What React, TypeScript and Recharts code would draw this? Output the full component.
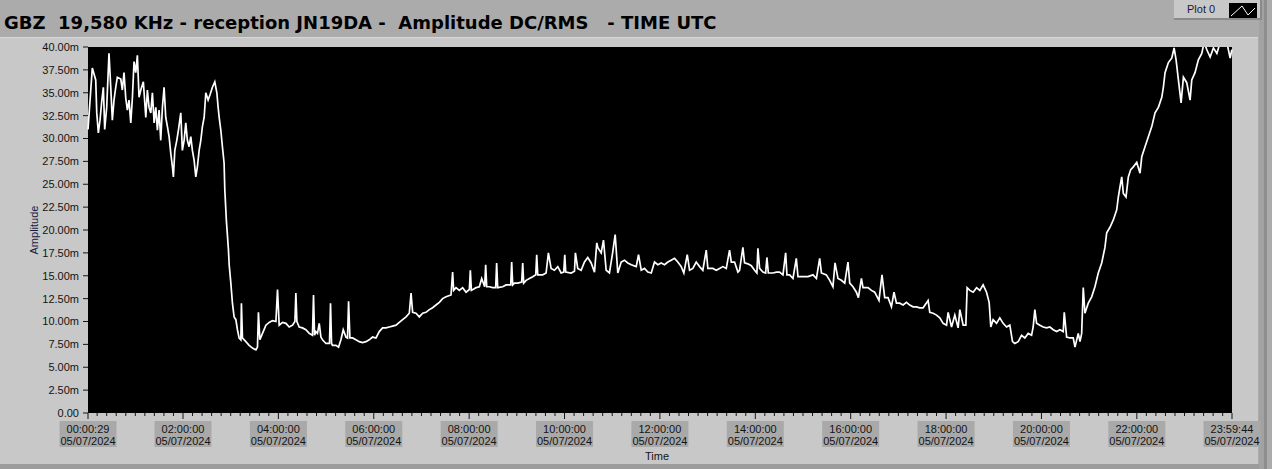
import { LineChart, Line, XAxis, YAxis } from 'recharts'

// GBZ 19,580 kHz - amplitude DC/RMS, reception JN19DA, 05/07/2024 (UTC)
const TITLE = 'GBZ  19,580 KHz - reception JN19DA -  Amplitude DC/RMS   - TIME UTC'
const DATE_LABEL = '05/07/2024'
const START_MIN = 29 / 60 // 00:00:29
const END_MIN = 86384 / 60 // 23:59:44

// readings: [minutes since 00:00 UTC, amplitude in mV]
const night: [number, number][] = [
  [0.5, 31.0], [5.9, 37.7], [10.2, 36.4], [11.5, 32.8], [13.5, 30.6], [15.6, 32.0], [17.7, 34.0], [19.8, 35.6],
  [21.5, 31.0], [24.0, 33.4], [26.9, 39.3], [29.1, 35.6], [31.1, 32.0], [33.2, 34.2], [35.4, 35.6], [37.4, 36.7],
  [41.7, 36.5], [43.7, 35.3], [45.8, 37.2], [48.0, 34.4], [50.0, 33.1], [52.1, 34.2], [54.3, 31.7], [56.3, 34.4],
  [58.4, 38.4], [60.6, 37.2], [62.6, 39.1], [64.7, 34.5], [66.9, 35.3], [70.1, 36.2], [73.2, 32.3], [75.2, 35.3],
  [77.3, 33.4], [79.5, 32.8], [81.5, 35.0], [83.7, 31.7], [85.8, 33.4], [87.8, 30.9], [89.9, 33.1], [92.0, 29.8],
  [94.1, 33.4], [96.2, 35.6], [98.3, 32.3], [100.4, 31.3], [102.5, 30.2], [104.6, 28.4], [106.7, 26.9], [107.9, 25.8],
  [109.7, 28.7], [112.2, 29.8], [114.2, 30.9], [117.2, 32.8], [119.2, 28.7], [121.4, 29.8], [123.5, 31.7], [125.5, 29.8],
  [127.7, 29.1], [129.8, 30.2], [131.8, 28.7], [134.0, 27.6], [136.1, 25.8], [138.1, 26.9], [140.3, 28.7], [142.4, 29.8],
  [144.4, 31.3], [146.6, 32.3], [148.7, 35.0], [151.6, 34.2], [154.1, 34.8], [157.0, 35.6], [160.0, 36.2], [162.6, 35.0],
  [164.2, 33.4], [165.5, 32.3], [167.6, 30.9], [169.6, 29.1], [171.7, 27.3], [172.6, 24.4], [174.6, 21.0],
]

const sunrise: [number, number][] = [
  [177.2, 17.8], [178.1, 16.2], [180.2, 14.2], [182.2, 12.0], [184.3, 10.5], [186.5, 10.2], [188.5, 9.1], [190.6, 8.2],
  [192.8, 8.0], [193.5, 12.0], [194.8, 8.2], [199.1, 7.8], [203.2, 7.4], [207.4, 7.1], [211.7, 6.9], [213.7, 7.2],
  [214.9, 11.0], [216.7, 8.0], [220.0, 8.7], [224.3, 9.6], [228.4, 9.9], [232.6, 10.1], [236.9, 10.0], [238.9, 13.5],
  [241.0, 9.6], [245.2, 9.9], [249.5, 9.8], [253.6, 9.4], [257.8, 9.6], [260.8, 10.0], [262.0, 13.1], [263.3, 10.0],
  [266.2, 9.4], [270.3, 9.3], [274.6, 9.1], [278.8, 8.7], [282.9, 8.5], [284.2, 12.9], [285.5, 8.5], [287.2, 8.9],
  [289.2, 8.7], [291.4, 9.8], [293.5, 8.3], [295.5, 8.0], [299.8, 7.6], [304.3, 7.6], [305.6, 12.0], [306.9, 7.6],
  [308.1, 7.4], [312.4, 7.4], [315.7, 7.2], [318.7, 8.0], [321.6, 9.1], [325.0, 8.3], [327.0, 8.2], [328.3, 12.2],
  [330.0, 8.2], [333.3, 8.2], [337.6, 8.0], [341.7, 7.8], [345.9, 7.7], [350.2, 7.8], [354.3, 8.0], [358.5, 8.3],
  [362.8, 8.2], [366.9, 8.9], [371.1, 9.3], [375.4, 9.3], [379.5, 9.4], [383.7, 9.5], [388.0, 9.6], [392.1, 9.9],
  [396.3, 10.2], [400.6, 10.5], [404.7, 10.9], [406.9, 13.1], [408.9, 11.0], [413.1, 10.9], [417.3, 10.5], [421.5, 10.9],
  [425.7, 11.0], [429.9, 11.3], [434.0, 11.5], [438.3, 11.8], [442.5, 12.1], [446.6, 12.5], [450.9, 12.7],
]

const daytime: [number, number][] = [
  [457.2, 12.9], [459.2, 15.4], [460.5, 13.4], [463.5, 13.7], [467.7, 13.4], [471.8, 13.7], [476.1, 13.2], [480.3, 13.5],
  [481.5, 15.6], [482.8, 13.4], [488.7, 13.7], [492.8, 13.8], [495.8, 14.7], [499.5, 13.8], [500.8, 16.2], [502.1, 13.8],
  [505.4, 13.8], [509.6, 13.7], [513.4, 13.7], [514.6, 16.4], [515.9, 13.7], [522.2, 13.8], [526.5, 14.0], [530.6, 14.0],
  [532.3, 14.0], [533.5, 16.5], [534.8, 14.0], [536.9, 14.2], [541.1, 14.2], [546.1, 14.3], [547.4, 16.4], [548.6, 14.2],
  [551.7, 14.5], [555.8, 14.7], [560.0, 14.9], [563.8, 15.1], [565.0, 17.3], [566.3, 15.1], [572.6, 15.1], [576.8, 15.3],
  [579.7, 17.5], [583.1, 15.8], [587.3, 15.6], [591.5, 16.0], [595.7, 15.3], [599.0, 15.4], [600.3, 17.3], [601.5, 15.4],
  [608.3, 15.3], [612.5, 15.5], [613.7, 17.5], [616.6, 15.8], [620.9, 15.6], [625.1, 16.5], [629.2, 17.0], [633.5, 16.4],
  [637.7, 15.4], [640.6, 18.6], [641.8, 18.1], [646.1, 17.5], [649.0, 18.9], [652.4, 15.6], [656.5, 15.3], [660.7, 17.6],
  [663.7, 19.5], [667.0, 15.3], [671.3, 16.5], [675.4, 16.7], [679.6, 16.4], [683.9, 16.2], [690.2, 16.0], [693.1, 17.3],
  [696.5, 15.6], [700.6, 15.8], [704.8, 15.4], [709.1, 15.3], [713.2, 16.5], [717.4, 16.2], [721.6, 16.4], [725.8, 16.2],
  [730.0, 16.5], [734.2, 16.7], [738.4, 16.9], [742.5, 16.5], [746.8, 16.0], [750.1, 15.3], [754.4, 17.3], [757.3, 15.6],
  [761.4, 15.8], [765.7, 16.5], [769.9, 16.0], [774.0, 15.6], [778.3, 17.8], [780.3, 15.8], [786.6, 15.8], [790.9, 15.6],
  [795.0, 15.8], [799.2, 16.0], [803.5, 15.8], [807.6, 17.8], [809.8, 16.5], [813.9, 16.5], [818.1, 15.4],
]

const afternoon: [number, number][] = [
  [820.2, 15.6], [824.4, 18.1], [826.5, 16.4], [830.7, 16.3], [835.0, 16.1], [839.1, 15.6], [842.0, 15.3], [843.3, 18.0],
  [845.4, 15.8], [849.6, 15.4], [853.0, 15.3], [854.6, 17.0], [856.4, 15.3], [862.2, 15.3], [866.5, 15.4], [870.6, 15.4],
  [874.8, 15.1], [878.2, 17.5], [879.8, 15.1], [883.2, 15.1], [887.4, 14.7], [891.6, 16.9], [893.7, 14.9], [900.0, 14.9],
  [906.3, 14.9], [912.6, 15.1], [916.9, 14.7], [921.0, 16.9], [923.2, 15.3], [929.4, 15.1], [933.6, 14.5], [937.7, 13.8],
  [940.3, 16.4], [944.0, 14.7], [948.3, 14.5], [952.5, 14.2], [956.6, 16.5], [958.8, 14.2], [962.9, 13.8], [967.2, 13.2],
  [969.7, 12.6], [973.5, 14.7], [975.5, 13.7], [981.8, 13.7], [986.1, 13.4], [990.2, 13.2], [995.6, 12.3], [999.4, 15.1],
  [1002.8, 12.6], [1007.0, 12.6], [1011.3, 11.6], [1014.5, 13.2], [1017.6, 12.0], [1021.7, 12.0], [1025.9, 11.8], [1030.2, 12.1],
  [1034.3, 11.8], [1038.5, 11.6], [1042.8, 11.6], [1046.9, 11.5], [1051.1, 11.5], [1057.4, 12.3], [1059.5, 11.0], [1063.7, 10.9],
  [1068.0, 10.7], [1072.1, 10.4], [1076.3, 9.8], [1080.6, 9.6], [1082.6, 11.0], [1086.9, 9.4], [1091.0, 10.7], [1095.2, 9.3],
  [1097.3, 11.3], [1101.5, 9.6], [1104.9, 9.6], [1106.5, 13.7], [1109.9, 13.4], [1114.1, 13.2], [1118.4, 13.7], [1122.5, 13.4],
  [1126.6, 14.0], [1130.9, 13.2], [1134.2, 12.1], [1136.3, 9.4], [1139.2, 10.2], [1143.5, 9.8], [1147.6, 10.4],
]

const evening: [number, number][] = [
  [1151.8, 9.8], [1156.1, 9.4], [1160.2, 9.6], [1163.6, 7.8], [1166.5, 7.6], [1170.7, 7.8], [1175.0, 8.5], [1179.1, 8.2],
  [1183.3, 8.7], [1187.6, 8.5], [1189.6, 9.4], [1191.7, 11.3], [1193.9, 9.8], [1198.0, 9.6], [1202.2, 9.4], [1206.5, 9.3],
  [1210.6, 9.4], [1214.8, 9.1], [1219.1, 8.9], [1223.2, 9.1], [1227.4, 8.9], [1228.7, 11.0], [1231.7, 8.3], [1235.8, 8.2],
  [1240.0, 8.2], [1242.2, 7.2], [1246.3, 8.7], [1248.5, 7.8], [1250.6, 8.7], [1252.6, 13.7], [1254.7, 10.9], [1258.9, 12.0],
  [1263.2, 12.7], [1267.3, 13.8], [1271.5, 15.3], [1275.8, 16.4], [1279.9, 18.1], [1282.1, 19.7], [1286.2, 20.3], [1290.4, 21.1],
  [1294.7, 22.2], [1296.7, 23.6], [1298.8, 24.7], [1301.0, 25.8], [1303.0, 24.0], [1306.4, 23.6], [1309.3, 25.8], [1312.3, 26.6],
  [1315.6, 26.9], [1319.9, 27.4], [1324.0, 26.2], [1326.2, 28.0], [1330.3, 29.1], [1334.5, 30.2], [1338.8, 31.3], [1342.9, 32.8],
  [1347.1, 33.4], [1351.4, 34.5], [1353.4, 35.6], [1355.5, 37.2], [1359.7, 38.3], [1364.0, 38.8], [1366.9, 39.9], [1369.4, 38.6],
  [1372.3, 36.4], [1375.7, 33.9], [1378.6, 36.7], [1382.8, 36.1], [1387.0, 34.2], [1389.1, 36.4], [1393.2, 37.2], [1397.4, 38.6],
  [1401.7, 39.3], [1404.6, 40.5], [1408.1, 39.7], [1412.2, 38.9], [1416.4, 39.9], [1420.7, 39.3], [1424.8, 40.5], [1433.2, 40.5],
  [1437.4, 38.8], [1439.6, 39.7],
]

const majorTicks = [START_MIN, 120, 240, 360, 480, 600, 720, 840, 960, 1080, 1200, 1320, END_MIN]
const yTicks = [0, 2.5, 5, 7.5, 10, 12.5, 15, 17.5, 20, 22.5, 25, 27.5, 30, 32.5, 35, 37.5, 40]

const data = [...night, ...sunrise, ...daytime, ...afternoon, ...evening].map(([t, v]) => ({ t, v }))

// minor ticks every 12 min between the labelled ones
const xTicks: number[] = [START_MIN]
for (let m = 12; m < END_MIN; m += 12) xTicks.push(m)
xTicks.push(END_MIN)

const FONT = "'Liberation Sans', Arial, sans-serif"
const INK = '#141414'
const PANEL = '#c8c8c8'
const OUTER = '#ababab'
const LABEL_BOX = '#a9a9a9'

const pad = (n: number) => String(n).padStart(2, '0')
function fmtTime(min: number) {
  const s = Math.round(min * 60)
  return `${pad(Math.floor(s / 3600))}:${pad(Math.floor((s % 3600) / 60))}:${pad(s % 60)}`
}

function fmtAmp(v: number) {
  return v === 0 ? '0.00' : `${v.toFixed(2)}m`
}

function TimeTick(props: any) {
  const { x, y, payload } = props
  const v = payload.value as number
  const major = majorTicks.some((m) => Math.abs(m - v) < 0.01)
  if (!major) {
    return <line x1={x} x2={x} y1={y} y2={y + 3} stroke={INK} strokeWidth={1} />
  }
  return (
    <g>
      <line x1={x} x2={x} y1={y} y2={y + 6} stroke={INK} strokeWidth={1} />
      <rect x={x - 28.5} y={y + 8} width={57} height={26} fill={LABEL_BOX} />
      <text x={x} y={y + 20} textAnchor="middle" fontSize={11} fontFamily={FONT} fill={INK}>
        {fmtTime(v)}
      </text>
      <text x={x} y={y + 31.5} textAnchor="middle" fontSize={11} fontFamily={FONT} fill={INK}>
        {DATE_LABEL}
      </text>
    </g>
  )
}

export default function App() {
  return (
    <div style={{ position: 'absolute', left: 0, top: 0, width: 1272, height: 469, background: OUTER, fontFamily: FONT, overflow: 'hidden' }}>
      {/* front panel */}
      <div style={{ position: 'absolute', left: 0, top: 37, width: 1258, height: 427, background: PANEL, borderTop: '1px solid #d8d8d8' }} />
      <div style={{ position: 'absolute', left: 1259, top: 0, width: 5, height: 469, background: '#a2a2a2' }} />
      <div style={{ position: 'absolute', left: 1264, top: 0, width: 3, height: 469, background: '#8e8e8e' }} />
      <div style={{ position: 'absolute', left: 0, top: 464, width: 1259, height: 5, background: '#9c9c9c' }} />

      {/* title */}
      <div style={{ position: 'absolute', left: 4, top: 12, fontFamily: "'DejaVu Sans', Verdana, sans-serif", fontSize: 18, lineHeight: '22px', fontWeight: 'bold', color: '#000', whiteSpace: 'pre' }}>
        {TITLE}
      </div>

      {/* plot legend */}
      <div style={{ position: 'absolute', left: 1174, top: 0, width: 88, height: 20, background: PANEL, borderRight: '2px solid #8a8a8a', borderBottom: '2px solid #8a8a8a', boxSizing: 'border-box' }} />
      <div style={{ position: 'absolute', left: 1187, top: 3, fontSize: 11, lineHeight: '13px', color: '#1a1a3c' }}>Plot 0</div>
      <svg style={{ position: 'absolute', left: 1229, top: 3 }} width={28} height={15}>
        <rect x={0} y={0} width={28} height={15} fill="#000" />
        <polyline points="2,13 13,3 19,12 26,5" fill="none" stroke="#fff" strokeWidth={1} />
      </svg>

      {/* plot area */}
      <div style={{ position: 'absolute', left: 88, top: 47, width: 1144, height: 366, background: '#000' }} />

      <div style={{ position: 'absolute', left: 0, top: 0 }}>
        <LineChart width={1272} height={469} data={data} margin={{ top: 47, right: 40, bottom: 0, left: 0 }}>
          <XAxis
            dataKey="t"
            type="number"
            domain={[START_MIN, END_MIN]}
            ticks={xTicks}
            interval={0}
            height={56}
            axisLine={false}
            tickLine={false}
            tickSize={0}
            tickMargin={0}
            tick={<TimeTick />}
          />
          <YAxis
            type="number"
            domain={[0, 40]}
            ticks={yTicks}
            interval={0}
            allowDataOverflow
            width={88}
            axisLine={false}
            tickLine={{ stroke: INK }}
            tickSize={5}
            tickMargin={4}
            tickFormatter={fmtAmp}
            tick={{ fill: INK, fontSize: 11, fontFamily: FONT }}
          />
          <Line
            type="linear"
            dataKey="v"
            stroke="#fff"
            strokeWidth={1.7}
            dot={false}
            isAnimationActive={false}
          />
        </LineChart>
      </div>

      {/* axis names */}
      <div style={{ position: 'absolute', left: -16, top: 223, width: 100, height: 14, lineHeight: '14px', textAlign: 'center', fontSize: 11, color: '#1a1a3c', transform: 'rotate(-90deg)' }}>
        Amplitude
      </div>
      <div style={{ position: 'absolute', left: 607, top: 450, width: 100, lineHeight: '13px', textAlign: 'center', fontSize: 11, color: INK }}>
        Time
      </div>
    </div>
  )
}
